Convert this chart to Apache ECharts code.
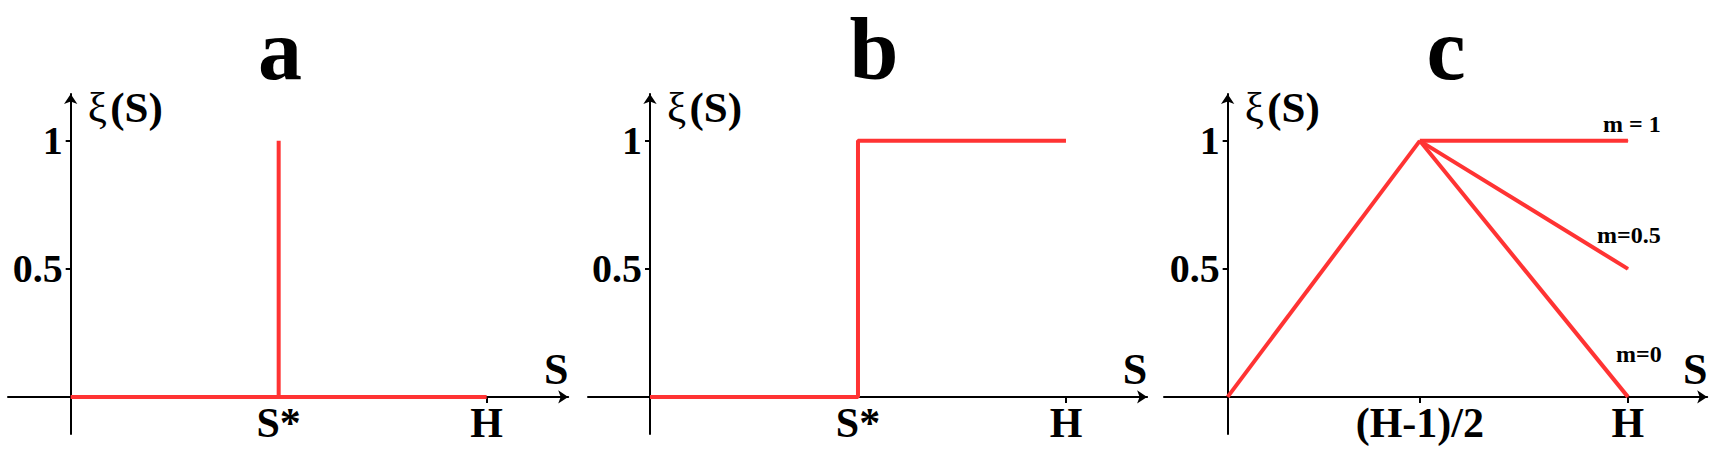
<!DOCTYPE html>
<html><head><meta charset="utf-8">
<script src="https://cdn.jsdelivr.net/npm/echarts@6/dist/echarts.min.js"></script>
<style>html,body{margin:0;padding:0;background:#fff}#c{width:1733px;height:452px}</style>
</head><body><div id="c"></div>
<script>
// ---------------- data ----------------
const panelTitles = ['a', 'b', 'c'];
const yTickValues = [0.5, 1];
const yTickLabels = ['0.5', '1'];
const xTickValuesA = [0.5, 1];
const xTickLabelsA = ['S*', 'H'];
const xTickValuesB = [0.5, 1];
const xTickLabelsB = ['S*', 'H'];
const xTickValuesC = [0.48, 1];
const xTickLabelsC = ['(H-1)/2', 'H'];
const aBaseline = [[0, 0], [1, 0]];
const aSpike = [[0.5, 0], [0.5, 1]];
const bStep = [[0, 0], [0.5, 0], [0.5, 1], [1, 1]];
const cRise = [[0, 0], [0.48, 1]];
const cM1 = [[0.48, 1], [1, 1]];
const cM05 = [[0.48, 1], [1, 0.5]];
const cM0 = [[0.48, 1], [1, 0]];
const mLabels = ['m = 1', 'm=0.5', 'm=0'];

// ---------------- style / layout ----------------
const SERIF = "'Liberation Serif', 'Times New Roman', serif";
const RED = '#ff3333';
const BLACK = '#000';
const Y_MIN = -0.145, Y_MAX = 1.183;
const GRID_TOP = 94, GRID_H = 340;
const layout = [
  { left: 8, width: 560.2, xMin: -0.1507, xMax: 1.196, titleX: 280, ticks: [1] },
  { left: 588, width: 559.1, xMin: -0.149, xMax: 1.195, titleX: 874, ticks: [1] },
  { left: 1164, width: 543.2, xMin: -0.159, xMax: 1.198, titleX: 1446, ticks: [0.48, 1] }
];
const xTicks = [
  [xTickValuesA, xTickLabelsA],
  [xTickValuesB, xTickLabelsB],
  [xTickValuesC, xTickLabelsC]
];

function lookup(vals, labels, v) {
  for (let k = 0; k < vals.length; k++) if (Math.abs(vals[k] - v) < 1e-6) return labels[k];
  return '';
}

const grids = [], xAxes = [], yAxes = [], titles = [];
layout.forEach((L, i) => {
  // distance between the grid's outer edges and the zero lines (labels sit at the grid edge)
  const axisXoff = -L.xMin / (L.xMax - L.xMin) * L.width;
  const axisYoff = -Y_MIN / (Y_MAX - Y_MIN) * GRID_H;
  grids.push({ left: L.left, width: L.width, top: GRID_TOP, height: GRID_H,
    containLabel: false, outerBoundsMode: 'none' });
  titles.push({
    text: panelTitles[i], left: L.titleX, top: 5, textAlign: 'center', padding: 0,
    textStyle: { fontFamily: SERIF, fontWeight: 'bold', fontSize: 88, color: BLACK }
  });
  const [tv, tl] = xTicks[i];
  xAxes.push({
    type: 'value', gridIndex: i, min: L.xMin, max: L.xMax,
    axisLine: { show: true, onZero: true, symbol: ['none', 'arrow'], symbolSize: [10, 10],
      lineStyle: { color: BLACK, width: 2 } },
    axisTick: { show: true, customValues: L.ticks, length: 6, lineStyle: { color: BLACK, width: 2 } },
    axisLabel: { show: true, customValues: tv, formatter: v => lookup(tv, tl, v), margin: 5 - axisYoff,
      color: BLACK, fontFamily: SERIF, fontWeight: 'bold', fontSize: 42 },
    splitLine: { show: false },
    name: 'S', nameLocation: 'end', nameGap: -12,
    nameTextStyle: { color: BLACK, fontFamily: SERIF, fontWeight: 'bold', fontSize: 44,
      align: 'center', verticalAlign: 'bottom', padding: [0, 0, 5, 0] }
  });
  yAxes.push({
    type: 'value', gridIndex: i, min: Y_MIN, max: Y_MAX,
    axisLine: { show: true, onZero: true, symbol: ['none', 'arrow'], symbolSize: [10, 10],
      lineStyle: { color: BLACK, width: 2 } },
    axisTick: { show: true, customValues: yTickValues, length: 5, lineStyle: { color: BLACK, width: 2 } },
    axisLabel: { show: true, customValues: yTickValues, formatter: v => lookup(yTickValues, yTickLabels, v),
      margin: 8 - axisXoff, color: BLACK, fontFamily: SERIF, fontWeight: 'bold', fontSize: 40 },
    splitLine: { show: false },
    name: '{g|ξ} {b|(S)}', nameLocation: 'end', nameGap: -13,
    nameTextStyle: { align: 'left', verticalAlign: 'middle', padding: [0, 0, 0, 17],
      rich: {
        g: { fontFamily: SERIF, fontSize: 43, fontWeight: 'normal', color: BLACK },
        b: { fontFamily: SERIF, fontSize: 43, fontWeight: 'bold', color: BLACK }
      } }
  });
});

function line(i, data, extra) {
  return Object.assign({
    type: 'line', xAxisIndex: i, yAxisIndex: i, data: data, symbol: 'none',
    lineStyle: { color: RED, width: 4 }, itemStyle: { color: RED },
    silent: true, animation: false, clip: false, z: 3
  }, extra || {});
}
function labelled(i, data, text, offset) {
  const last = data.length - 1;
  return line(i, data.map((p, k) => k === last
    ? { value: p, label: { show: true, formatter: text, position: 'top', offset: offset } }
    : { value: p }), {
    symbol: 'circle', symbolSize: 1, showSymbol: true,
    label: { show: false, color: BLACK, fontFamily: SERIF, fontWeight: 'bold', fontSize: 24 }
  });
}

const option = {
  backgroundColor: '#fff',
  animation: false,
  title: titles,
  grid: grids,
  xAxis: xAxes,
  yAxis: yAxes,
  series: [
    line(0, aBaseline),
    line(0, aSpike),
    line(1, bStep),
    line(2, cRise),
    labelled(2, cM1, mLabels[0], [4, 1]),
    labelled(2, cM05, mLabels[1], [1, -16]),
    labelled(2, cM0, mLabels[2], [11, -25])
  ]
};
const chart = echarts.init(document.getElementById('c'), null, { renderer: 'svg' });
chart.setOption(option);
</script>
</body></html>
